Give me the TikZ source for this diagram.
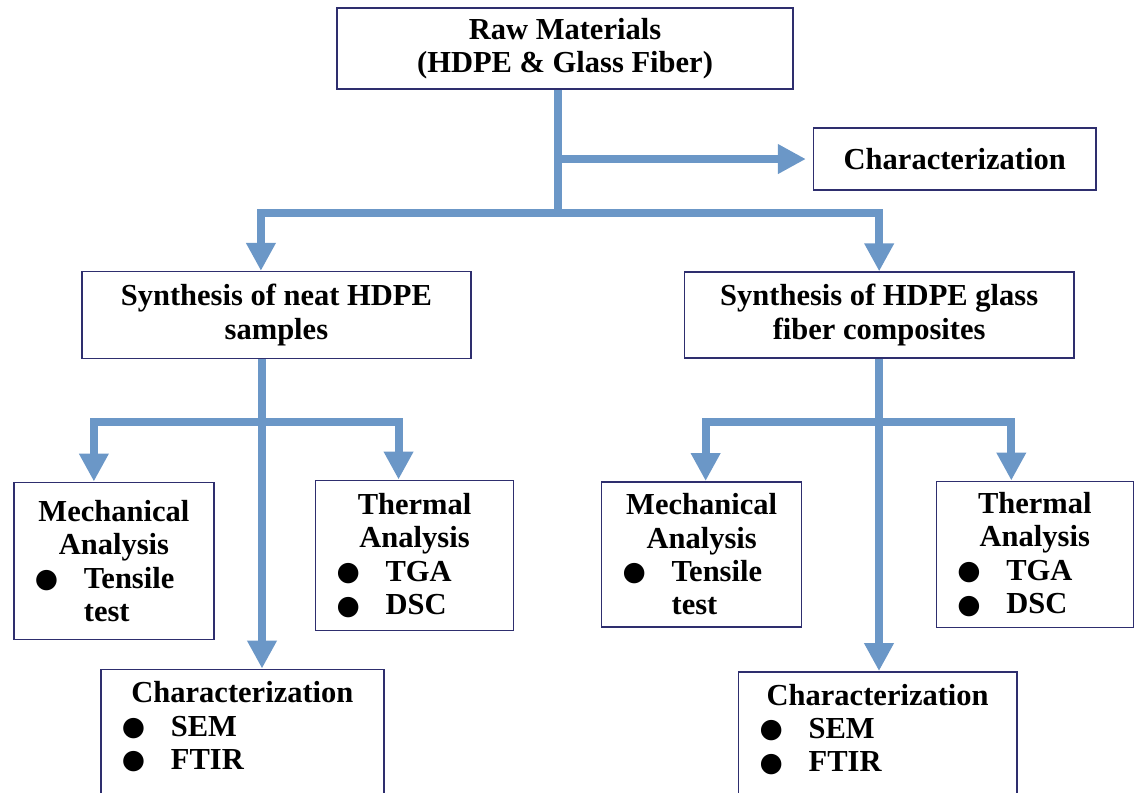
\documentclass[tikz,border=0pt]{standalone}
\usepackage{fontspec}
\setmainfont{Liberation Serif}
\newfontfamily\dotfont{DejaVu Sans}
\usepackage{tikz}
\usepackage{xcolor}
\usetikzlibrary{positioning, arrows.meta}
\definecolor{flowBlue}{HTML}{6B97C7}
\definecolor{boxNavy}{HTML}{2E2E6E}
\setlength{\parindent}{0pt}
\newcommand{\bitem}[1]{\makebox[1.225cm][l]{\raisebox{0.6pt}{\dotfont\fontsize{19pt}{19pt}\selectfont ●}}#1}

\begin{document}
\begin{tikzpicture}[
      x=0.025cm, y=-0.025cm,
      base/.style={draw=boxNavy, line width=0.04cm, fill=white, font=\fontsize{21.7pt}{23.8pt}\selectfont\bfseries},
      box/.style={base, align=center},
      listbox/.style={base, text width=#1, inner xsep=0.525cm},
      flow/.style={draw=flowBlue, line width=0.2cm},
      arr/.style={flow, -{Triangle[length=0.7cm, width=0.7cm]}},
    ]
    \useasboundingbox (0,0) rectangle (1134,792);
    \clip (0,0) rectangle (1134,792);
    \node[box, minimum width=11.4cm, minimum height=2.025cm] (raw) at (565,48.5) {Raw Materials\\(HDPE \& Glass Fiber)};
    \node[box, minimum width=7.05cm, minimum height=1.55cm, right=0.475cm of raw, yshift=-2.7625cm] (charT) {Characterization};
    \node[box, minimum width=9.725cm, minimum height=2.175cm, below=4.525cm of raw, xshift=-7.2125cm] (synL) {Synthesis of neat HDPE\\samples};
    \node[box, minimum width=9.725cm, minimum height=2.15cm, right=5.3cm of synL] (synR) {Synthesis of HDPE glass\\fiber composites};
    % neat HDPE branch
    \node[listbox=3.95cm, minimum height=3.925cm, below=3.05cm of synL, xshift=-4.0625cm] (mechL) {{\centering Mechanical\par Analysis\par}\bitem{Tensile}\par\hspace*{1.225cm}test};
    \node[listbox=3.9cm, minimum height=3.75cm, right=2.5cm of mechL, yshift=0.1375cm] (thermL) {{\centering Thermal\par Analysis\par}\bitem{TGA}\par\bitem{DSC}};
    \node[listbox=6.025cm, inner ysep=0.3cm, below=7.725cm of synL, xshift=-0.85cm] (charL) {{\centering Characterization\par}\bitem{SEM}\par\bitem{FTIR}\rule[-2cm]{0pt}{2cm}};
    % composite branch
    \node[listbox=3.95cm, minimum height=3.625cm, below=3.05cm of synR, xshift=-4.4375cm] (mechR) {{\centering Mechanical\par Analysis\par}\bitem{Tensile}\par\hspace*{1.225cm}test};
    \node[listbox=3.875cm, minimum height=3.65cm, right=3.325cm of mechR] (thermR) {{\centering Thermal\par Analysis\par}\bitem{TGA}\par\bitem{DSC}};
    \node[listbox=5.9cm, inner ysep=0.3cm, below=7.8cm of synR, xshift=-0.0375cm] (charR) {{\centering Characterization\par}\bitem{SEM}\par\bitem{FTIR}\rule[-2cm]{0pt}{2cm}};
    % connectors
    \coordinate (trunk) at (558,213);
    \coordinate (splitL) at (262,422);
    \coordinate (splitR) at (879,422);
    \draw[flow] (raw.south -| trunk) -- (trunk);
    \draw[arr, shorten >=0.175cm] (trunk |- charT.west) -- (charT.west);
    \draw[arr] (trunk) -| ([xshift=-0.3875cm]synL.north);
    \draw[arr] (trunk) -| (synR.north);
    \draw[arr] (synL.south -| splitL) -- (charL.north -| splitL);
    \draw[arr] (splitL) -| ([xshift=-0.5cm]mechL.north);
    \draw[arr] (splitL) -| ([xshift=-0.4cm]thermL.north);
    \draw[arr] (synR.south -| splitR) -- (charR.north -| splitR);
    \draw[arr] (splitR) -| ([xshift=0.1cm]mechR.north);
    \draw[arr] (splitR) -| ([xshift=-0.5875cm]thermR.north);
  \end{tikzpicture}
\end{document}
